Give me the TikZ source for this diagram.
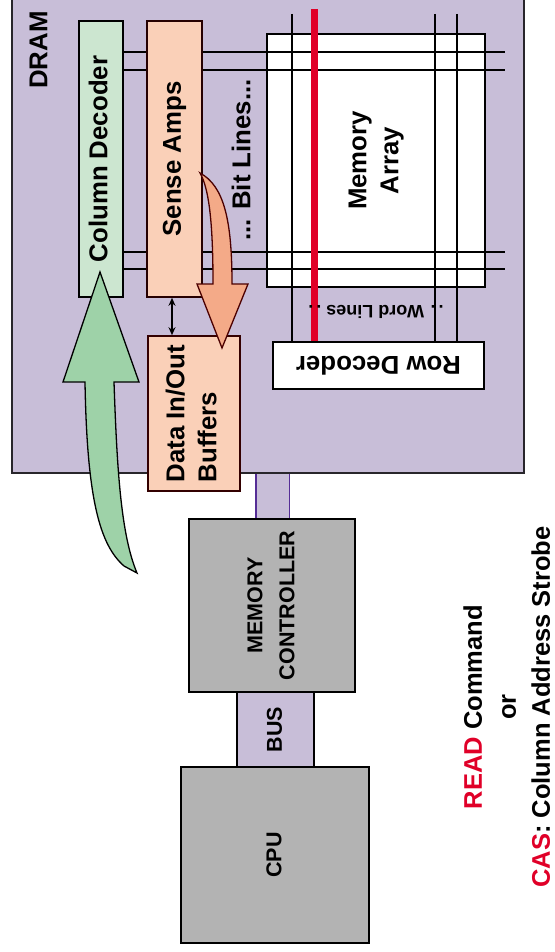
\documentclass[tikz,border=0pt]{standalone}
\usepackage{fontspec}
\setmainfont{Liberation Sans}
\usetikzlibrary{arrows.meta}
\definecolor{dramfill}{RGB}{200,190,216}
\definecolor{decfill}{RGB}{204,230,208}
\definecolor{peach}{RGB}{250,208,184}
\definecolor{peacharrow}{RGB}{244,170,136}
\definecolor{greenarrow}{RGB}{158,210,168}
\definecolor{ctrlgray}{RGB}{179,179,179}
\definecolor{selred}{RGB}{224,0,40}
\definecolor{linkviolet}{RGB}{85,45,150}
\newcommand{\vtext}[2][c]{\rotatebox{90}{\begin{tabular}{@{}#1@{}}#2\end{tabular}}}
\newcommand{\utext}[1]{\rotatebox{180}{#1}}
\newcommand{\bigfont}{\bfseries\fontsize{25.8}{32}\selectfont}
\newcommand{\midfont}{\bfseries\fontsize{21.5}{32}\selectfont}

\begin{document}
\begin{tikzpicture}[x=1pt,y=-1pt,
  box/.style={draw=black,line width=1.6pt,inner sep=0pt,font=\bigfont},
  gridline/.style={draw=black,line width=1.3pt}]
\useasboundingbox (0,0) rectangle (554,952);
\node[box,fill=dramfill,draw=black!80!dramfill,minimum width=512pt,minimum height=478pt] (dram) at (268,234) {};
\node[font=\bigfont] (dramlbl) at (41,50) {\vtext{DRAM}};
\node[box,fill=decfill,minimum width=44pt,minimum height=276pt] (coldec) at (101,159) {\vtext{Column Decoder}};
\node[box,fill=peach,draw=black!85!red,minimum width=55pt,minimum height=276pt] (senseamp) at (174.5,159) {\vtext{Sense Amps}};
\node[box,fill=white,minimum width=218pt,minimum height=253pt] (memarray) at (376,160.5) {\vtext{Memory\\Array}};
\node[box,fill=white,minimum width=211pt,minimum height=47pt] (rowdec) at (378.5,365.5) {\utext{Row Decoder}};
\foreach \y in {52,70,252,269} {
  \draw[gridline] (coldec.east |- 0,\y) -- (senseamp.west |- 0,\y);
  \draw[gridline] (senseamp.east |- 0,\y) -- (505,\y);
}
\foreach \x in {292,435,457}
  \draw[gridline] (\x,14) -- (rowdec.north -| \x,0);
\draw[selred,line width=7pt] (314.5,9) -- (rowdec.north -| 314.5,0);
\node[font=\bfseries\fontsize{18}{20}\selectfont] (wordlines) at (376,312) {\utext{.\,. Word Lines .\,.}};
\node[font=\bigfont] (bitlines) at (244,160) {\vtext{... Bit Lines...}};
\node[box,fill=peach,draw=black!80!red,minimum width=92pt,minimum height=155pt] (databuf) at (194,413.5) {\vtext[l]{Data In/Out\\Buffers}};
\draw[{Stealth[length=8pt,width=7pt]}-{Stealth[length=8pt,width=7pt]},line width=1.3pt] (senseamp.south -| 172,0) -- (databuf.north -| 172,0);
% sense amps -> buffers
\draw[fill=peacharrow,draw=black!70!red,line width=1.3pt] (222,348) -- (248,284) -- (232,284)
  .. controls (232,220) and (224,186) .. (200,173)
  .. controls (210,190) and (213,230) .. (213,284) -- (197,284) -- cycle;
% column address
\draw[fill=greenarrow,line width=1.3pt] (100,272) -- (139,382) -- (114,382)
  .. controls (117,470) and (121,535) .. (137,573) -- (124,566)
  .. controls (100,545) and (87,500) .. (85,382) -- (63,382) -- cycle;
\node[fill=dramfill,minimum width=33pt,minimum height=45pt,inner sep=0pt] (link) at (272.5,496.5) {};
\draw[linkviolet,line width=1.4pt] (link.north west) -- (link.south west) (link.north east) -- (link.south east);
\node[box,fill=ctrlgray,font=\midfont,minimum width=166pt,minimum height=173pt] (memctrl) at (272,605.5) {\vtext{MEMORY\\CONTROLLER}};
\node[box,fill=dramfill,font=\midfont,minimum width=77pt,minimum height=75pt] (bus) at (275.5,729.5) {\vtext{BUS}};
\node[box,fill=ctrlgray,font=\midfont,minimum width=188pt,minimum height=176pt] (cpu) at (275,855) {\vtext{CPU}};
\node[font=\bfseries\fontsize{25.5}{34}\selectfont] (caption) at (509,707) {\vtext{\textcolor{selred}{READ} Command\\or\\\textcolor{selred}{CAS}: Column Address Strobe}};
\end{tikzpicture}
\end{document}
